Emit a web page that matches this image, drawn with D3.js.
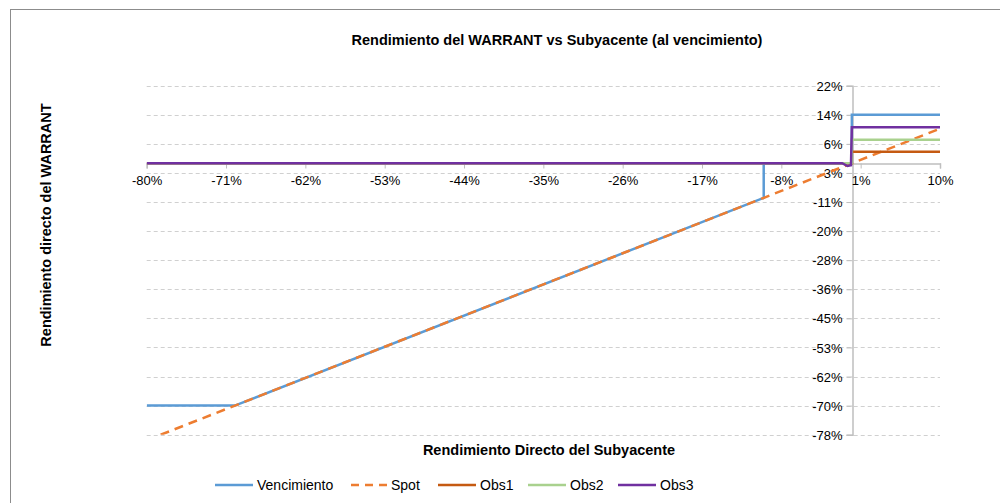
<!DOCTYPE html>
<html>
<head>
  <meta charset="utf-8">
  <title>Rendimiento del WARRANT</title>
  <style>
    body{ margin: 0; background: #fff; }
    text{ font-family: "Liberation Sans", Arial, sans-serif; fill: #000; }
  </style>
  <script src="https://d3js.org/d3.v7.min.js"></script>
</head>
<body>
  <div id="container"></div>
  <script>
    //*******DATA*******
    // each series is a list of [subyacente, warrant] points
    const vencimiento = [[-0.80, -0.70], [-0.70, -0.70], [-0.10, -0.10], [-0.10, 0], [0, 0], [0, 0.14], [0.10, 0.14]];
    const spot = [[-0.80, -0.80], [0.10, 0.10]];
    const obs1 = [[-0.80, 0], [0, 0], [0, 0.033], [0.10, 0.033]];
    const obs2 = [[-0.80, 0], [0, 0], [0, 0.068], [0.10, 0.068]];
    const obs3 = [[-0.80, 0], [-0.011, 0], [-0.005, -0.008], [-0.001, -0.006], [0, 0.104], [0.10, 0.104]];

    const seriesNames = ["Vencimiento", "Spot", "Obs1", "Obs2", "Obs3"];
    const seriesColors = ["#5b9bd5", "#ed7d31", "#c55a11", "#a9d18e", "#7030a0"];

    // axis ticks as Excel drew them
    const xTicks = [-0.80, -0.71, -0.62, -0.53, -0.44, -0.35, -0.26, -0.17, -0.08, 0.01, 0.10];
    const yTicks = [0.224, 0.140, 0.056, -0.028, -0.112, -0.196, -0.280, -0.364, -0.448, -0.532, -0.616, -0.700, -0.784];

    //*******CONSTANTS*******
    const width = 1000,
          height = 503;
    const plot = { left: 146.7, right: 940, top: 85.7, bottom: 434.7 };

    var svg = d3.select("#container")
      .append("svg")
      .attr("width", width)
      .attr("height", height)
      .style("display", "block");

    // chart border (only top and left fall inside the window)
    svg.append("rect")
      .attr("x", 10.5).attr("y", 9.5)
      .attr("width", 1100).attr("height", 600)
      .attr("fill", "none").attr("stroke", "#8c8c8c").attr("stroke-width", 1);

    var x = d3.scaleLinear().domain([-0.80, 0.10]).range([plot.left, plot.right]);
    var y = d3.scaleLinear().domain([-0.784, 0.224]).range([plot.bottom, plot.top]);

    // horizontal dashed gridlines
    svg.append("g")
      .selectAll("line")
      .data(yTicks)
      .enter()
      .append("line")
      .attr("x1", plot.left).attr("x2", plot.right)
      .attr("y1", d => Math.round(y(d)) + 0.5).attr("y2", d => Math.round(y(d)) + 0.5)
      .attr("stroke", "#d0d0d0")
      .attr("stroke-dasharray", "4,3");

    // y axis sits at x = 0
    var yAxis = svg.append("g")
      .attr("transform", "translate(" + (Math.round(x(0)) + 0.5) + ",0)")
      .call(d3.axisLeft(y).tickValues(yTicks).tickSize(6).tickPadding(4)
        .tickFormat(d => Math.round(d * 100) + "%"));

    // x axis sits at y = 0
    var xAxis = svg.append("g")
      .attr("transform", "translate(0," + (Math.round(y(0)) + 0.5) + ")")
      .call(d3.axisBottom(x).tickValues(xTicks).tickSize(5).tickPadding(7)
        .tickFormat(d => Math.round(d * 100) + "%"));

    [xAxis, yAxis].forEach(function(a){
      a.select(".domain").attr("stroke", "#bfbfbf").attr("stroke-width", 1.5);
      a.selectAll(".tick line").attr("stroke", "#bfbfbf");
      a.selectAll(".tick text").attr("font-size", 13).attr("fill", "#000")
        .style("font-family", "'Liberation Sans', Arial, sans-serif");
    });
    yAxis.selectAll(".tick text").attr("dy", "0.35em");

    // clip the lines to the plot area like Excel does
    svg.append("clipPath").attr("id", "plotclip")
      .append("rect")
      .attr("x", plot.left).attr("y", plot.top)
      .attr("width", plot.right - plot.left).attr("height", plot.bottom - plot.top);

    var line = d3.line().x(d => x(d[0])).y(d => y(d[1]));
    var allSeries = [vencimiento, spot, obs1, obs2, obs3];

    svg.append("g")
      .attr("clip-path", "url(#plotclip)")
      .selectAll("path")
      .data(allSeries)
      .enter()
      .append("path")
      .attr("d", line)
      .attr("fill", "none")
      .attr("stroke", (d, i) => seriesColors[i])
      .attr("stroke-width", 2.5)
      .attr("stroke-dasharray", (d, i) => seriesNames[i] == "Spot" ? "9,6" : null);

    //*******TEXTS*******
    svg.append("text")
      .attr("x", 557).attr("y", 45)
      .attr("text-anchor", "middle")
      .attr("font-size", 14.5).attr("font-weight", "bold")
      .text("Rendimiento del WARRANT vs Subyacente (al vencimiento)");

    svg.append("text")
      .attr("x", 549).attr("y", 455)
      .attr("text-anchor", "middle")
      .attr("font-size", 14.5).attr("font-weight", "bold")
      .text("Rendimiento Directo del Subyacente");

    svg.append("text")
      .attr("transform", "translate(51,225) rotate(-90)")
      .attr("text-anchor", "middle")
      .attr("font-size", 14.5).attr("font-weight", "bold")
      .text("Rendimiento directo del WARRANT");

    //*******LEGEND*******
    const legendX = [215, 351, 438, 528, 618];
    var legend = svg.append("g")
      .selectAll("g")
      .data(seriesNames)
      .enter()
      .append("g")
      .attr("transform", (d, i) => "translate(" + legendX[i] + ",485)");

    legend.append("line")
      .attr("x1", 0).attr("x2", (d, i) => i == 1 ? 36 : 38)
      .attr("y1", 0).attr("y2", 0)
      .attr("stroke", (d, i) => seriesColors[i])
      .attr("stroke-width", 2.5)
      .attr("stroke-dasharray", d => d == "Spot" ? "8,6" : null);

    legend.append("text")
      .attr("x", (d, i) => i == 1 ? 40 : 42)
      .attr("y", 5)
      .attr("font-size", 14)
      .text(d => d);
  </script>
</body>
</html>
